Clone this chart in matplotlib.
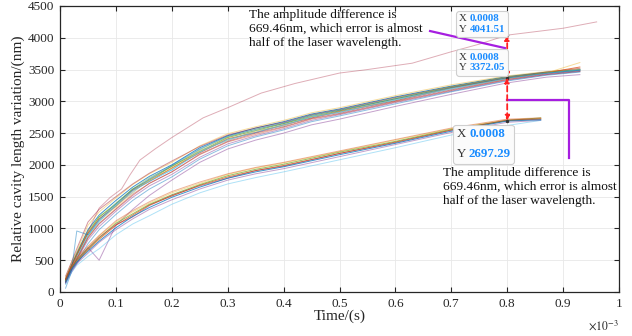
import matplotlib
matplotlib.use("Agg")
import matplotlib.pyplot as plt
from matplotlib.offsetbox import TextArea, HPacker, VPacker, AnnotationBbox

plt.rcParams['font.family'] = ['Liberation Serif', 'DejaVu Serif']
plt.rcParams['mathtext.fontset'] = 'stix'

# ---------------- data (time in units of 1e-3 s, values in nm) ----------------
t_main = [0.01, 0.02, 0.03, 0.05, 0.07, 0.10, 0.13, 0.16, 0.20, 0.25, 0.30, 0.35,
          0.40, 0.45, 0.50, 0.60, 0.70, 0.80, 0.87, 0.93]
main_curves = [
    [200, 420, 600, 980, 1210, 1440, 1650, 1820, 2000, 2270, 2460, 2580, 2680, 2800, 2880, 3070, 3240, 3390, 3460, 3500],
    [150, 350, 520, 860, 1080, 1310, 1540, 1710, 1890, 2160, 2360, 2480, 2590, 2720, 2800, 2990, 3170, 3340, 3420, 3470],
    [230, 450, 640, 1050, 1260, 1480, 1690, 1860, 2040, 2300, 2490, 2600, 2700, 2820, 2900, 3090, 3260, 3400, 3470, 3510],
    [160, 340, 500, 820, 1030, 1270, 1490, 1670, 1850, 2120, 2330, 2460, 2570, 2700, 2790, 2980, 3160, 3330, 3420, 3470],
    [190, 400, 580, 930, 1180, 1380, 1620, 1760, 1980, 2210, 2430, 2540, 2650, 2760, 2850, 3040, 3220, 3370, 3450, 3490],
    [170, 370, 550, 880, 1100, 1370, 1560, 1780, 1920, 2230, 2380, 2540, 2610, 2770, 2820, 3030, 3190, 3360, 3440, 3480],
    [250, 460, 680, 1100, 1300, 1500, 1700, 1870, 2060, 2290, 2470, 2580, 2670, 2790, 2870, 3060, 3230, 3380, 3460, 3520],
    [130, 320, 460, 760, 980, 1220, 1440, 1620, 1810, 2090, 2300, 2440, 2550, 2680, 2770, 2960, 3150, 3320, 3410, 3460],
    [190, 390, 570, 920, 1150, 1350, 1600, 1740, 1950, 2190, 2410, 2510, 2630, 2740, 2840, 3010, 3210, 3365, 3450, 3540],
    [170, 360, 530, 870, 1120, 1340, 1570, 1770, 1940, 2220, 2390, 2530, 2620, 2760, 2830, 3030, 3200, 3355, 3445, 3610],
    [140, 300, 440, 700, 500, 1050, 1300, 1520, 1760, 2040, 2250, 2390, 2500, 2630, 2720, 2920, 3110, 3290, 3380, 3420],
    [210, 410, 620, 960, 1180, 1400, 1620, 1800, 1970, 2240, 2440, 2560, 2650, 2780, 2860, 3050, 3230, 3385, 3455, 3500],
    [180, 370, 540, 890, 1120, 1360, 1590, 1740, 1920, 2200, 2400, 2510, 2630, 2750, 2830, 3020, 3200, 3360, 3440, 3490],
    [160, 350, 520, 850, 1070, 1300, 1520, 1710, 1890, 2170, 2370, 2500, 2600, 2730, 2810, 3000, 3180, 3345, 3430, 3480],
    [60, 300, 960, 900, 1140, 1390, 1610, 1780, 1990, 2250, 2450, 2560, 2660, 2780, 2860, 3040, 3215, 3370, 3445, 3490],
]

t_low = [0.01, 0.02, 0.03, 0.05, 0.07, 0.10, 0.13, 0.16, 0.20, 0.25, 0.30, 0.35,
         0.40, 0.50, 0.60, 0.70, 0.80, 0.86]
low_curves = [
    [170, 360, 480, 660, 830, 1050, 1210, 1370, 1510, 1680, 1810, 1910, 1990, 2180, 2360, 2550, 2697, 2720],
    [200, 390, 520, 700, 880, 1100, 1260, 1400, 1560, 1710, 1850, 1950, 2030, 2210, 2390, 2570, 2710, 2730],
    [150, 330, 450, 610, 780, 980, 1150, 1300, 1450, 1620, 1760, 1860, 1940, 2130, 2320, 2510, 2670, 2700],
    [180, 370, 500, 680, 850, 1080, 1230, 1380, 1530, 1690, 1830, 1930, 2010, 2200, 2370, 2560, 2700, 2740],
    [120, 300, 420, 560, 680, 900, 1070, 1200, 1380, 1560, 1700, 1800, 1890, 2080, 2270, 2470, 2620, 2700],
    [190, 380, 510, 690, 860, 1060, 1180, 1360, 1520, 1670, 1790, 1910, 1980, 2180, 2350, 2545, 2705, 2725],
    [160, 350, 470, 640, 800, 1010, 1190, 1330, 1490, 1650, 1790, 1890, 1970, 2160, 2340, 2530, 2690, 2710],
    [210, 400, 540, 720, 890, 1120, 1280, 1420, 1580, 1730, 1860, 1960, 2040, 2220, 2400, 2580, 2720, 2740],
]

t_out = [0.01, 0.02, 0.03, 0.05, 0.07, 0.09, 0.11, 0.125, 0.143, 0.17, 0.20, 0.256,
         0.30, 0.36, 0.42, 0.50, 0.55, 0.63, 0.70, 0.75, 0.80, 0.90, 0.96]
out_curve = [200, 400, 600, 950, 1320, 1490, 1620, 1840, 2076, 2250, 2430, 2740,
             2900, 3130, 3280, 3445, 3500, 3600, 3780, 3900, 4041.51, 4150, 4250]

tip_x = 0.8
tip_label_x = "0.0008"
tip_y = [4041.51, 3372.05, 2697.29]
tip_labels = ["4041.51", "3372.05", "2697.29"]

note_text = "The amplitude difference is\n669.46nm, which error is almost\nhalf of the laser wavelength."

matlab_colors = ['#0072BD', '#D95319', '#EDB120', '#7E2F8E', '#77AC30', '#4DBEEE', '#A2142F']

# ---------------- figure ----------------
fig = plt.figure(figsize=(6.32, 3.36), dpi=100)
ax = fig.add_axes([60/632, 44/336, 559/632, 286/336])

for i, c in enumerate(main_curves):
    ax.plot(t_main, c, color=matlab_colors[i % 7], lw=0.7, alpha=0.45 if i % 4 else 0.75)
for i, c in enumerate(low_curves):
    ax.plot(t_low, c, color=matlab_colors[(i + 1) % 7], lw=0.7, alpha=0.45 if i % 3 else 0.75)
ax.plot(t_out, out_curve, color='#A2142F', lw=0.7, alpha=0.35)

ax.set_xlim(0, 1)
ax.set_ylim(0, 4500)
ax.set_xticks([i/10 for i in range(11)])
ax.set_xticklabels(['0', '0.1', '0.2', '0.3', '0.4', '0.5', '0.6', '0.7', '0.8', '0.9', '1'])
ax.set_yticks(range(0, 4501, 500))
ax.grid(True, color='#e8e8e8', lw=0.6)
ax.set_axisbelow(True)
ax.tick_params(direction='in', top=True, right=True, length=3.5, width=0.8,
               labelsize=9.5, colors='#262626', pad=4)
for s in ax.spines.values():
    s.set_color('#262626')
    s.set_linewidth(0.9)
ax.set_xlabel('Time/(s)', fontsize=11, color='#262626', labelpad=0)
ax.set_ylabel('Relative cavity length variation/(nm)', fontsize=11, color='#262626', labelpad=2)
ax.text(1.0, -0.092, r'$\times10^{-3}$', transform=ax.transAxes, ha='right', va='top',
        fontsize=8.5, color='#262626')

# red dashed double arrows
for y0, y1 in [(tip_y[0], tip_y[1]), (tip_y[1], tip_y[2])]:
    ax.annotate('', xy=(tip_x, y0), xytext=(tip_x, y1),
                arrowprops=dict(arrowstyle='<|-|>', color='#ff2020', lw=1.3,
                                linestyle=(0, (3, 2)), mutation_scale=7,
                                shrinkA=0, shrinkB=0))
ax.plot([tip_x]*3, tip_y, 'o', color='#333333', ms=1.5)

# purple lines
purple = '#A61EE0'
ax.plot([0.662, 0.796], [4106, 3838], color=purple, lw=1.6)
ax.plot([tip_x, 0.911, 0.911], [3020, 3020, 2108], color=purple, lw=1.6)

# texts
ax.text(0.338, 4450, note_text, fontsize=9.6, va='top', ha='left', color='#111111', linespacing=1.2)
ax.text(0.685, 1960, note_text, fontsize=9.6, va='top', ha='left', color='#111111', linespacing=1.2)

# datatips
def datatip(yv, ylab, offset, fs, sep):
    gx = TextArea("X ", textprops=dict(color='#333333', fontsize=fs))
    vx = TextArea(tip_label_x, textprops=dict(color='#1a8cff', fontsize=fs, fontweight='bold'))
    gy = TextArea("Y ", textprops=dict(color='#333333', fontsize=fs))
    vy = TextArea(ylab, textprops=dict(color='#1a8cff', fontsize=fs, fontweight='bold'))
    box = VPacker(children=[HPacker(children=[gx, vx], sep=0, align='baseline'),
                            HPacker(children=[gy, vy], sep=0, align='baseline')],
                  sep=sep, align='left')
    ab = AnnotationBbox(box, (tip_x, yv), xybox=offset, boxcoords='offset points',
                        frameon=True, pad=0.25,
                        bboxprops=dict(boxstyle='round,pad=0.25,rounding_size=0.2',
                                       fc='#fbfbfb', ec='#cfcfcf', lw=0.8))
    ax.add_artist(ab)

datatip(tip_y[0], tip_labels[0], (-18, 8), 7.8, 1)
datatip(tip_y[1], tip_labels[1], (-18, 11), 7.8, 1)
datatip(tip_y[2], tip_labels[2], (-17, -17), 9.3, 6)

fig.savefig('out.png', dpi=100)
